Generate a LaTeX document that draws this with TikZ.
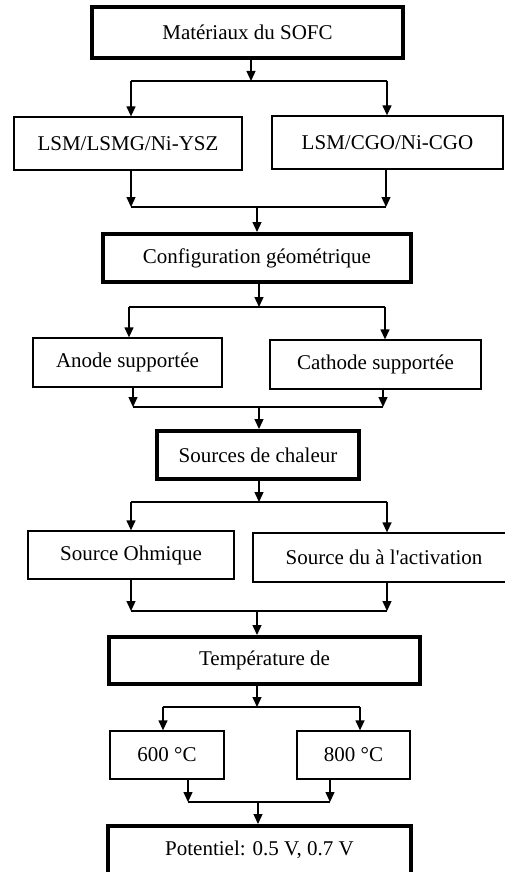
\documentclass[tikz,border=0pt]{standalone}
\usepackage{fontspec}
\setmainfont{Liberation Serif}
\usetikzlibrary{arrows.meta}
\begin{document}
\begin{tikzpicture}[x=1pt,y=-1pt,
  box/.style={draw,line width=1.3pt,inner sep=0pt,minimum width=#1,font=\fontsize{21}{25}\selectfont},
  bigbox/.style={box=#1,line width=4pt},
  arr/.style={line width=1.3pt,-{Triangle[length=10pt,width=9pt]}},
  ln/.style={line width=1.3pt}]
\useasboundingbox (0,0) rectangle (504,872);
% boxes
\node[bigbox=311pt,minimum height=51pt] (n1) at (247.5,32.5) {Matériaux du SOFC};
\node[box=228pt,minimum height=53pt] (n2a) at (128,143.5) {LSM/LSMG/Ni-YSZ};
\node[box=231pt,minimum height=53pt] (n2b) at (387.5,142.5) {LSM/CGO/Ni-CGO};
\node[bigbox=308pt,minimum height=48pt] (n3) at (257,258) {Configuration géométrique};
\node[box=189pt,minimum height=49pt] (n4a) at (127.5,362.5) {Anode supportée};
\node[box=211pt,minimum height=49pt] (n4b) at (375.5,364.5) {Cathode supportée};
\node[bigbox=202pt,minimum height=48pt] (n5) at (258,455) {Sources de chaleur};
\node[box=206pt,minimum height=48pt] (n6a) at (131,555) {Source Ohmique};
\node[box=262pt,minimum height=49pt] (n6b) at (384,557.5) {Source du à l\textquotesingle activation};
\node[bigbox=311pt,minimum height=47pt] (n7) at (264.5,660.5) {Température de};
\node[box=114pt,minimum height=48pt] (n8a) at (167,755) {600 °C};
\node[box=113pt,minimum height=48pt] (n8b) at (353.5,755) {800 °C};
\node[bigbox=303pt,minimum height=48pt] (n9) at (259.5,850) {Potentiel: 0.5 V, 0.7 V};
% split 1
\coordinate (s1c) at (251,81); \coordinate (s1l) at (131,81); \coordinate (s1r) at (387,81);
\draw[arr] (n1.south -| s1c) -- (s1c);
\draw[ln] (s1l) -- (s1r);
\draw[arr] (s1l) -- (n2a.north -| s1l);
\draw[arr] (s1r) -- (n2b.north -| s1r);
% merge 1
\coordinate (m1l) at (131,207); \coordinate (m1r) at (386,207); \coordinate (m1c) at (257,207);
\draw[arr] (n2a.south -| m1l) -- (m1l);
\draw[arr] (n2b.south -| m1r) -- (m1r);
\draw[ln] (m1l) -- (m1r);
\draw[arr] (m1c) -- (n3.north -| m1c);
% split 2
\coordinate (s2c) at (259,307); \coordinate (s2l) at (129,307); \coordinate (s2r) at (385,307);
\draw[arr] (n3.south -| s2c) -- (s2c);
\draw[ln] (s2l) -- (s2r);
\draw[arr] (s2l) -- (n4a.north -| s2l);
\draw[arr] (s2r) -- (n4b.north -| s2r);
% merge 2
\coordinate (m2l) at (133,407); \coordinate (m2r) at (383,407); \coordinate (m2c) at (259,407);
\draw[arr] (n4a.south -| m2l) -- (m2l);
\draw[arr] (n4b.south -| m2r) -- (m2r);
\draw[ln] (m2l) -- (m2r);
\draw[arr] (m2c) -- (n5.north -| m2c);
% split 3
\coordinate (s3c) at (259,502); \coordinate (s3l) at (131,502); \coordinate (s3r) at (387,502);
\draw[arr] (n5.south -| s3c) -- (s3c);
\draw[ln] (s3l) -- (s3r);
\draw[arr] (s3l) -- (n6a.north -| s3l);
\draw[arr] (s3r) -- (n6b.north -| s3r);
% merge 3
\coordinate (m3l) at (131,611); \coordinate (m3r) at (387,611); \coordinate (m3c) at (257,611);
\draw[arr] (n6a.south -| m3l) -- (m3l);
\draw[arr] (n6b.south -| m3r) -- (m3r);
\draw[ln] (m3l) -- (m3r);
\draw[arr] (m3c) -- (n7.north -| m3c);
% split 4
\coordinate (s4c) at (257,707); \coordinate (s4l) at (163,707); \coordinate (s4r) at (360,707);
\draw[arr] (n7.south -| s4c) -- (s4c);
\draw[ln] (s4l) -- (s4r);
\draw[arr] (s4l) -- (n8a.north -| s4l);
\draw[arr] (s4r) -- (n8b.north -| s4r);
% merge 4
\coordinate (m4l) at (188,802); \coordinate (m4r) at (330,802); \coordinate (m4c) at (258,802);
\draw[arr] (n8a.south -| m4l) -- (m4l);
\draw[arr] (n8b.south -| m4r) -- (m4r);
\draw[ln] (m4l) -- (m4r);
\draw[arr] (m4c) -- (n9.north -| m4c);
\end{tikzpicture}
\end{document}
